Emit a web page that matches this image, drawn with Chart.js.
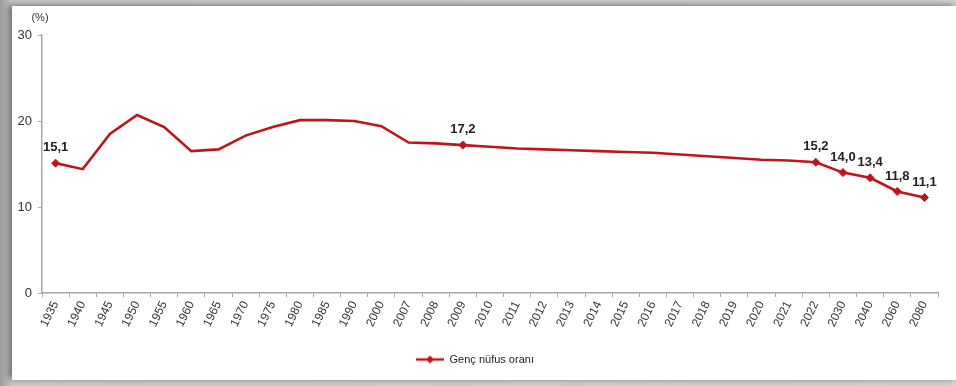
<!DOCTYPE html>
<html>
<head>
<meta charset="utf-8">
<script src="https://cdn.jsdelivr.net/npm/chart.js@4.4.1/dist/chart.umd.min.js"></script>
<style>
  html, body { margin: 0; padding: 0; }
  body { width: 956px; height: 386px; background: linear-gradient(90deg,#9a9a9a 0px,#c8c8c8 12px,#d0d0d0 100%); position: relative; overflow: hidden; }
  #card { position: absolute; left: 12px; top: 6px; width: 944px; height: 374px; background: #fff; box-shadow: -3px -1px 6px rgba(0,0,0,0.45); }
  canvas { display: block; }
</style>
</head>
<body>
<div id="card"><canvas id="c" width="944" height="374"></canvas></div>
<script>
const categories = ['1935','1940','1945','1950','1955','1960','1965','1970','1975','1980','1985','1990','2000','2007','2008','2009','2010','2011','2012','2013','2014','2015','2016','2017','2018','2019','2020','2021','2022','2030','2040','2060','2080'];
const youthShare = [15.1,14.4,18.5,20.7,19.3,16.5,16.7,18.3,19.3,20.1,20.1,20.0,19.4,17.5,17.4,17.2,17.0,16.8,16.7,16.6,16.5,16.4,16.3,16.1,15.9,15.7,15.5,15.4,15.2,14.0,13.4,11.8,11.1];
const labeledYears = ['1935','2009','2022','2030','2040','2060','2080'];
const yTicks = [0,10,20,30];
const seriesName = 'Genç nüfus oranı';
const unitLabel = '(%)';

const RED = '#c0141c';
const FONT = "'Liberation Sans', Arial, sans-serif";

// legend symbol: line with diamond
const sym = document.createElement('canvas');
sym.width = 28; sym.height = 10;
(function(){
  const g = sym.getContext('2d');
  g.strokeStyle = RED; g.lineWidth = 2.5;
  g.beginPath(); g.moveTo(0,5); g.lineTo(28,5); g.stroke();
  g.fillStyle = RED;
  g.beginPath(); g.moveTo(14,1); g.lineTo(18,5); g.lineTo(14,9); g.lineTo(10,5); g.closePath(); g.fill();
})();

const isLabeled = categories.map(c => labeledYears.includes(c));

const extras = {
  id: 'extras',
  afterDatasetsDraw(chart) {
    const ctx = chart.ctx;
    const meta = chart.getDatasetMeta(0);
    ctx.save();
    ctx.font = "bold 13px " + FONT;
    ctx.fillStyle = '#222';
    ctx.textAlign = 'center';
    ctx.textBaseline = 'bottom';
    meta.data.forEach((pt, i) => {
      if (!isLabeled[i]) return;
      const txt = youthShare[i].toFixed(1).replace('.', ',');
      ctx.fillText(txt, pt.x, pt.y - 9);
    });
    const ys = chart.scales.y;
    ctx.font = "11px " + FONT;
    ctx.fillStyle = '#333';
    ctx.textAlign = 'center';
    ctx.textBaseline = 'middle';
    ctx.fillText(unitLabel, ys.right - 2, ys.top - 17);
    ctx.restore();
  }
};

new Chart(document.getElementById('c'), {
  type: 'line',
  data: {
    labels: categories,
    datasets: [{
      label: seriesName,
      data: youthShare,
      borderColor: RED,
      backgroundColor: RED,
      borderWidth: 2.6,
      tension: 0,
      pointStyle: 'rectRot',
      pointRadius: isLabeled.map(b => b ? 4 : 0),
      pointHoverRadius: 0,
      pointBackgroundColor: RED,
      pointBorderColor: RED,
      pointBorderWidth: 1
    }]
  },
  options: {
    responsive: false,
    animation: false,
    events: [],
    layout: { padding: { top: 29, right: 18, bottom: 5, left: 0 } },
    plugins: {
      tooltip: { enabled: false },
      legend: {
        position: 'bottom',
        labels: {
          font: { family: FONT, size: 11 },
          color: '#222',
          padding: 8,
          usePointStyle: true,
          pointStyleWidth: 28,
          generateLabels: (chart) => [{
            text: seriesName,
            pointStyle: sym,
            fillStyle: RED,
            strokeStyle: RED,
            lineWidth: 0,
            hidden: false,
            datasetIndex: 0,
            fontColor: '#222'
          }]
        }
      }
    },
    scales: {
      x: {
        offset: true,
        grid: { offset: true, drawOnChartArea: false, drawTicks: true, tickLength: 4, color: '#a6a6a6' },
        border: { color: '#a6a6a6', width: 1.5 },
        ticks: { font: { family: FONT, size: 12 }, color: '#333', minRotation: 64, maxRotation: 64, autoSkip: false, padding: 2 },
        afterFit(s) { s.height = 53; }
      },
      y: {
        min: 0, max: 30,
        afterBuildTicks(s) { s.ticks = yTicks.map(v => ({ value: v })); },
        grid: { drawOnChartArea: false, drawTicks: true, tickLength: 4, color: '#a6a6a6' },
        border: { color: '#a6a6a6', width: 1.5 },
        ticks: { font: { family: FONT, size: 13 }, color: '#333', padding: 6 },
        afterFit(s) { s.width = 30; }
      }
    }
  },
  plugins: [extras]
});
</script>
</body>
</html>
